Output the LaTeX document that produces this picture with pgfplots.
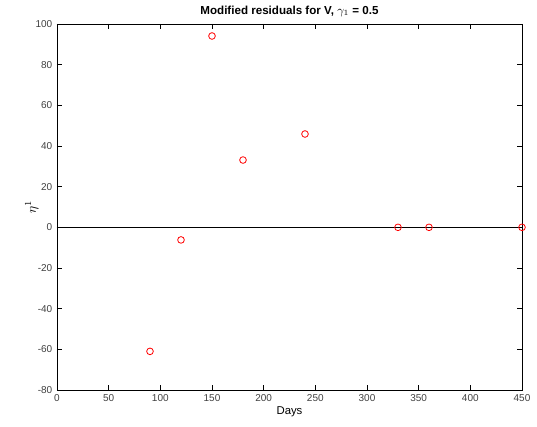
\documentclass[border=0pt]{standalone}
\usepackage{pgfplots}
\pgfplotsset{compat=1.18}
\usepackage{fontspec}
\setmainfont{Liberation Sans}
\begin{document}
\begin{tikzpicture}
\path[use as bounding box] (-42.75pt,-27.75pt) rectangle (360pt,292.5pt);
\begin{axis}[
  at={(0,0)}, anchor=south west,
  scale only axis, width=348.75pt, height=274.5pt,
  xmin=0, xmax=450, ymin=-80, ymax=100,
  xtick={0,50,...,450}, ytick={-80,-60,...,100},
  tick align=inside, xtick pos=both, ytick pos=both,
  major tick length=3.5pt,
  tick style={black, line width=0.5pt},
  axis line style={line width=0.6pt},
  /pgf/number format/assume math mode=true,
  tick label style={font=\fontsize{7.5}{9}\selectfont, text=black!75},
  xlabel={Days}, ylabel={$\eta^1$},
  label style={font=\fontsize{8.5}{10}\selectfont},
  xlabel style={yshift=3pt},
  ylabel style={yshift=-9pt, font=\fontsize{10}{12}\selectfont},
  title={\textbf{Modified residuals for V, $\gamma_1$ = 0.5}},
  title style={font=\fontsize{8.7}{10}\selectfont, yshift=-4pt},
]
\addplot[black, line width=0.6pt, forget plot] coordinates {(0,0) (450,0)};
\addplot[only marks, mark=o, mark size=2.5pt, red, mark options={line width=0.6pt}] coordinates {
(90,-61) (120,-6.2) (150,94.1) (180,33.1) (240,45.9) (330,0) (360,0) (450,0)};
\end{axis}
\end{tikzpicture}
\end{document}
